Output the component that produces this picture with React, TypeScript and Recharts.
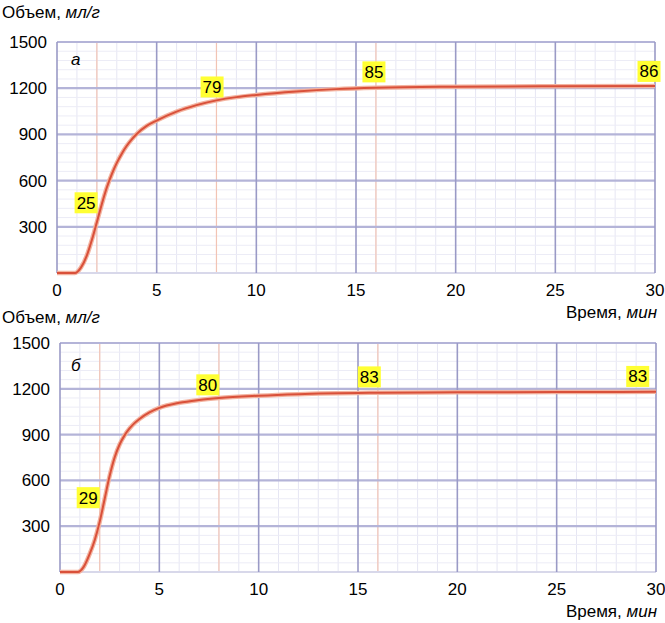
import React from 'react';
import { LineChart, Line, XAxis, YAxis, ReferenceLine, ReferenceDot } from 'recharts';

// Panel "а"
const timeA = [0, 0.5, 0.9, 1.2, 1.5, 1.75, 2, 2.25, 2.5, 2.75, 3, 3.25, 3.5, 3.75, 4, 4.5, 5, 6, 7, 8, 9, 10, 12, 14, 16, 20, 25, 30];
const volA = [0, 0, 0, 35, 115, 215, 330, 448, 555, 642, 715, 775, 826, 868, 903, 955, 990, 1048, 1090, 1121, 1142, 1156, 1178, 1194, 1203, 1210, 1213, 1214];

// Panel "б"
const timeB = [0, 0.5, 0.9, 1.2, 1.5, 1.75, 2, 2.25, 2.5, 2.75, 3, 3.25, 3.5, 3.75, 4, 4.5, 5, 6, 7, 8, 10, 12, 16, 20, 25, 30];
const volB = [0, 0, 0, 35, 120, 210, 330, 480, 630, 750, 835, 895, 940, 975, 1002, 1045, 1075, 1108, 1127, 1140, 1155, 1165, 1174, 1177, 1179, 1180];

const markerTimes = [2, 8, 16];
const labelsA = ['25', '79', '85', '86'];
const labelsB = ['29', '80', '83', '83'];
// label anchor points (time, volume) where the yellow tags sit
const labelPosA = [[1.46, 456], [7.78, 1208], [15.9, 1306], [29.7, 1309]];
const labelPosB = [[1.42, 487], [7.44, 1226], [15.57, 1278], [29.08, 1281]];

const xTicks = [0, 5, 10, 15, 20, 25, 30];
const yTicks = [300, 600, 900, 1200, 1500];

const minorX = Array.from({ length: 31 }, (_, i) => i).filter((v) => v % 5 !== 0);
const minorY = Array.from({ length: 26 }, (_, i) => i * 60).filter((v) => v % 300 !== 0);

const FONT = '"Liberation Sans", Arial, Helvetica, sans-serif';

const Tag = (props: any) => {
  const { cx, cy, text } = props;
  if (cx == null || cy == null) return null;
  const w = 23;
  const h = 21;
  return (
    <g>
      <rect x={cx - w / 2} y={cy - h / 2} width={w} height={h} fill="#ffff33" />
      <text x={cx} y={cy + 6} textAnchor="middle" fontSize={17} fontFamily={FONT} fill="#000">
        {text}
      </text>
    </g>
  );
};

function Panel({ times, vols, labels, labelPos, width, height, top, leftW, rightM, bottomH }: any) {
  const data = times.map((t: number, i: number) => ({ t, v: vols[i] }));
  return (
    <LineChart
      width={width}
      height={height}
      data={data}
      margin={{ top, right: rightM, left: 0, bottom: 0 }}
      style={{ fontFamily: FONT }}
    >
      <XAxis
        dataKey="t"
        type="number"
        domain={[0, 30]}
        ticks={xTicks}
        axisLine={false}
        tickLine={false}
        height={bottomH}
        tickMargin={5}
        tick={{ fill: '#000', fontSize: 17, fontFamily: FONT }}
        interval={0}
      />
      <YAxis
        type="number"
        domain={[0, 1500]}
        ticks={yTicks}
        axisLine={false}
        tickLine={false}
        width={leftW}
        tickMargin={4}
        tick={{ fill: '#000', fontSize: 17, fontFamily: FONT }}
        interval={0}
      />
      {minorX.map((x: number) => (
        <ReferenceLine key={'mx' + x} x={x} stroke="#e6e6f3" strokeWidth={1} />
      ))}
      {minorY.map((y: number) => (
        <ReferenceLine key={'my' + y} y={y} stroke="#ececf6" strokeWidth={1} />
      ))}
      {markerTimes.map((x: number) => (
        <ReferenceLine key={'mk' + x} x={x} stroke="#f2c4b4" strokeWidth={1.2} />
      ))}
      <ReferenceLine y={0} stroke="#d8d8ea" strokeWidth={2} />
      {yTicks.map((y: number) => (
        <ReferenceLine key={'Y' + y} y={y} stroke="#b4b4d8" strokeWidth={2.2} />
      ))}
      {xTicks.map((x: number) => (
        <ReferenceLine key={'X' + x} x={x} stroke="#9a9ac6" strokeWidth={1.6} />
      ))}
      <Line
        type="monotone"
        dataKey="v"
        stroke="#f3b3a0"
        strokeWidth={4.5}
        dot={false}
        isAnimationActive={false}
      />
      <Line
        type="monotone"
        dataKey="v"
        stroke="#d9503a"
        strokeWidth={2}
        dot={false}
        isAnimationActive={false}
      />
      {labels.map((lab: string, i: number) => (
        <ReferenceDot
          key={'lab' + i}
          x={labelPos[i][0]}
          y={labelPos[i][1]}
          r={0}
          shape={(p: any) => <Tag {...p} text={lab} />}
        />
      ))}
    </LineChart>
  );
}

const textStyle: React.CSSProperties = {
  position: 'absolute',
  fontFamily: FONT,
  fontSize: 17,
  color: '#000',
  whiteSpace: 'nowrap',
  lineHeight: '20px',
};

export default function App() {
  return (
    <div style={{ position: 'absolute', left: 0, top: 0, width: 665, height: 623, background: '#fff', overflow: 'hidden' }}>
      <div style={{ position: 'absolute', left: 0, top: 0 }}>
        <Panel
          times={timeA}
          vols={volA}
          labels={labelsA}
          labelPos={labelPosA}
          width={665}
          height={300}
          top={42}
          leftW={57}
          rightM={10}
          bottomH={27}
        />
      </div>
      <div style={{ position: 'absolute', left: 0, top: 300 }}>
        <Panel
          times={timeB}
          vols={volB}
          labels={labelsB}
          labelPos={labelPosB}
          width={665}
          height={300}
          top={43}
          leftW={60}
          rightM={9}
          bottomH={28}
        />
      </div>
      <div style={{ ...textStyle, left: 2, top: 3 }}>
        Объем, <i>мл/г</i>
      </div>
      <div style={{ ...textStyle, right: 8, top: 303 }}>
        Время, <i>мин</i>
      </div>
      <div style={{ ...textStyle, left: 2, top: 308 }}>
        Объем, <i>мл/г</i>
      </div>
      <div style={{ ...textStyle, right: 8, top: 602 }}>
        Время, <i>мин</i>
      </div>
      <div style={{ ...textStyle, left: 71, top: 50, fontStyle: 'italic' }}>а</div>
      <div style={{ ...textStyle, left: 71, top: 356, fontStyle: 'italic' }}>б</div>
    </div>
  );
}
